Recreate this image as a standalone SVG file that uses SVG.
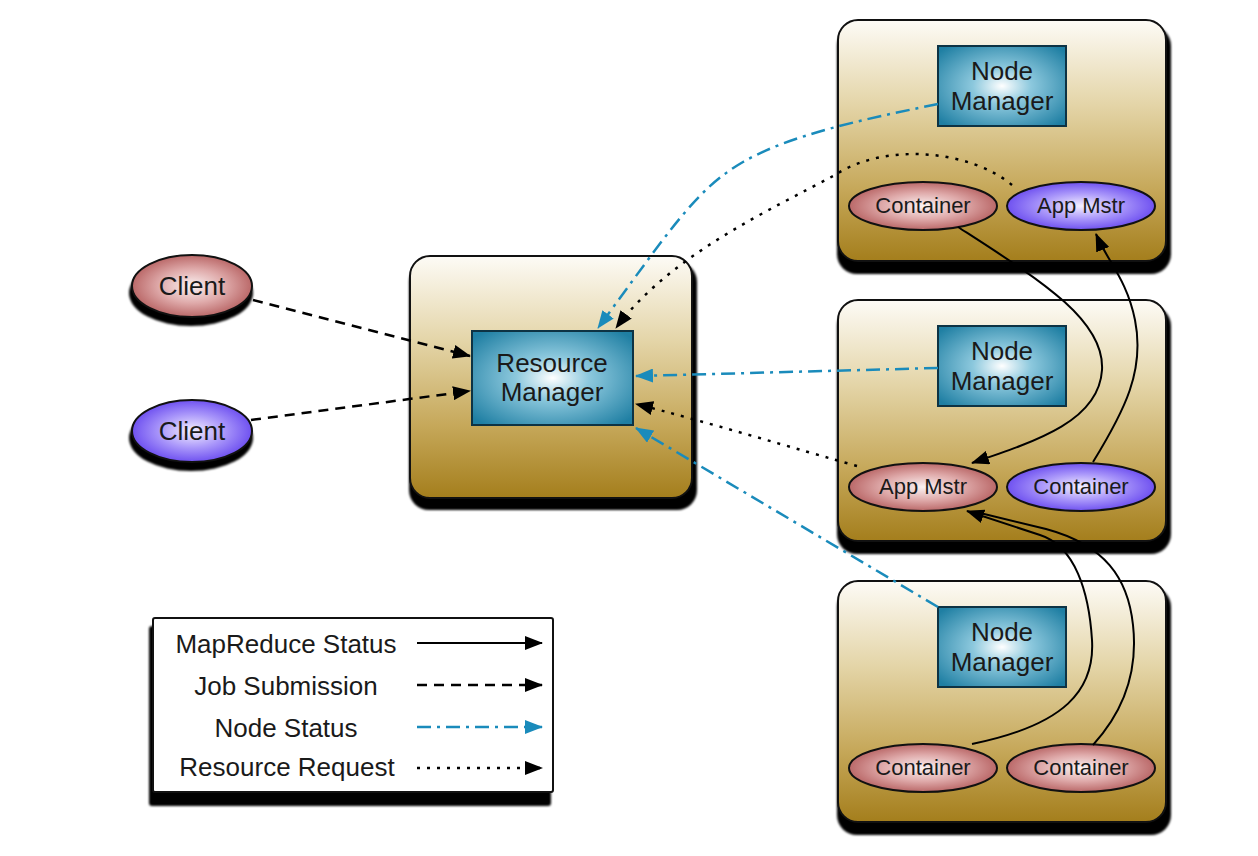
<svg xmlns="http://www.w3.org/2000/svg" width="1258" height="856" viewBox="0 0 1258 856">
<style>
text{font-family:"Liberation Sans",Arial,sans-serif;fill:#1a1a1a;text-anchor:middle}
.big{font-size:26px}
.sm{font-size:22px}
.leg{font-size:26px}
.box{fill:url(#gold);stroke:#111;stroke-width:2}
.sh{fill:#000;filter:url(#bl)}
.nm{fill:url(#teal);stroke:#0d3344;stroke-width:2}
.red{fill:url(#rg);stroke:#111;stroke-width:2}
.blu{fill:url(#bg);stroke:#111;stroke-width:2}
.mr{fill:none;stroke:#000;stroke-width:2;marker-end:url(#ak)}
.mr0{fill:none;stroke:#000;stroke-width:2}
.js{fill:none;stroke:#000;stroke-width:2.5;stroke-dasharray:10 7;marker-end:url(#ak)}
.ns{fill:none;stroke:#1a8bbb;stroke-width:2.5;stroke-dasharray:14 6 3 6;marker-end:url(#ab)}
.rr{fill:none;stroke:#000;stroke-width:2.5;stroke-dasharray:3 7;marker-end:url(#ak)}
</style>
<defs>
<filter id="bl" x="-10%" y="-10%" width="120%" height="130%"><feGaussianBlur stdDeviation="1"/></filter>
<linearGradient id="gold" x1="0" y1="0" x2="0" y2="1">
<stop offset="0" stop-color="#fdfbf6"/>
<stop offset="0.35" stop-color="#e4d5a8"/>
<stop offset="0.7" stop-color="#c6a85a"/>
<stop offset="1" stop-color="#a47e1c"/>
</linearGradient>
<radialGradient id="teal" cx="0.5" cy="0.5" r="0.65">
<stop offset="0" stop-color="#ffffff"/>
<stop offset="0.35" stop-color="#8cc8dd"/>
<stop offset="1" stop-color="#1f7fa3"/>
</radialGradient>
<radialGradient id="rg" cx="0.5" cy="0.5" r="0.55">
<stop offset="0" stop-color="#fbf2f2"/>
<stop offset="0.5" stop-color="#dfaaaa"/>
<stop offset="1" stop-color="#b25a5a"/>
</radialGradient>
<radialGradient id="bg" cx="0.5" cy="0.5" r="0.55">
<stop offset="0" stop-color="#f4f0ff"/>
<stop offset="0.5" stop-color="#a996fa"/>
<stop offset="1" stop-color="#6242ee"/>
</radialGradient>
<marker id="ak" markerWidth="18" markerHeight="14" refX="17" refY="7" orient="auto" markerUnits="userSpaceOnUse"><path d="M0,0 L18,7 L0,14 z" fill="#000"/></marker>
<marker id="ab" markerWidth="18" markerHeight="14" refX="17" refY="7" orient="auto" markerUnits="userSpaceOnUse"><path d="M0,0 L18,7 L0,14 z" fill="#1a8bbb"/></marker>
</defs>

<g id="client-red">
<ellipse class="sh" cx="191" cy="293" rx="62" ry="33"/>
<ellipse class="red" cx="192" cy="286" rx="60" ry="31"/>
<text class="big" x="192" y="295">Client</text>
</g>
<g id="client-blue">
<ellipse class="sh" cx="191" cy="438" rx="62" ry="33"/>
<ellipse class="blu" cx="192" cy="431" rx="60" ry="31"/>
<text class="big" x="192" y="440">Client</text>
</g>

<g id="resource-manager-node">
<rect class="sh" x="409" y="262" width="288" height="248" rx="20"/>
<rect class="box" x="410" y="256" width="282" height="242" rx="20"/>
<rect id="resource-manager" class="nm" x="472" y="331" width="161" height="94"/>
<text class="big" x="552" y="372">Resource</text>
<text class="big" x="552" y="401">Manager</text>
</g>

<g id="node1">
<rect class="sh" x="837" y="26" width="334" height="248" rx="20"/>
<rect class="box" x="838" y="20" width="328" height="241" rx="20"/>
<rect class="nm" x="938" y="46" width="128" height="80"/>
<text class="big" x="1002" y="80">Node</text>
<text class="big" x="1002" y="110">Manager</text>
<ellipse class="red" cx="923" cy="206" rx="74" ry="24"/>
<text class="sm" x="923" y="213">Container</text>
<ellipse class="blu" cx="1081" cy="206" rx="74" ry="24"/>
<text class="sm" x="1081" y="213">App Mstr</text>
</g>

<g id="node2">
<rect class="sh" x="837" y="306" width="334" height="248" rx="20"/>
<rect class="box" x="838" y="300" width="328" height="241" rx="20"/>
<rect class="nm" x="938" y="326" width="128" height="80"/>
<text class="big" x="1002" y="360">Node</text>
<text class="big" x="1002" y="390">Manager</text>
<ellipse class="red" cx="923" cy="487" rx="74" ry="24"/>
<text class="sm" x="923" y="494">App Mstr</text>
<ellipse class="blu" cx="1081" cy="487" rx="74" ry="24"/>
<text class="sm" x="1081" y="494">Container</text>
</g>

<g id="node3">
<rect class="sh" x="837" y="587" width="334" height="248" rx="20"/>
<rect class="box" x="838" y="581" width="328" height="241" rx="20"/>
<rect class="nm" x="938" y="607" width="128" height="80"/>
<text class="big" x="1002" y="641">Node</text>
<text class="big" x="1002" y="671">Manager</text>
<ellipse class="red" cx="923" cy="768" rx="74" ry="24"/>
<text class="sm" x="923" y="775">Container</text>
<ellipse class="red" cx="1081" cy="768" rx="74" ry="24"/>
<text class="sm" x="1081" y="775">Container</text>
</g>

<g id="connectors">
<path class="js" d="M253,300 L470,356"/>
<path class="js" d="M251,420 L470,391"/>
<path class="ns" d="M938,104 C860,120 790,135 743,162 S670,230 598,328"/>
<path class="rr" d="M1012,185 C970,150 885,142 835,175 C770,210 670,255 616,328"/>
<path class="ns" d="M938,368 L636,376"/>
<path class="rr" d="M857,466 C800,450 700,420 636,404"/>
<path class="ns" d="M938,607 L636,428"/>
<path class="mr" d="M958,227 C1040,280 1105,320 1102,370 C1099,420 1040,440 972,463"/>
<path class="mr" d="M1093,462 C1125,410 1145,370 1135,320 C1127,280 1108,262 1096,234"/>
<path class="mr0" d="M1093,745 C1125,710 1138,670 1133,625 C1128,578 1105,545 1046,529 L976,512"/>
<path class="mr" d="M972,744 C1065,725 1095,690 1092,640 C1089,592 1075,546 1040,535 L967,511"/>
</g>

<g id="legend">
<rect class="sh" x="149" y="626" width="402" height="180" rx="3"/>
<rect x="153" y="618" width="400" height="174" rx="2" fill="#fff" stroke="#111" stroke-width="2"/>
<text class="leg" x="286" y="653">MapReduce Status</text>
<text class="leg" x="286" y="695">Job Submission</text>
<text class="leg" x="286" y="737">Node Status</text>
<text class="leg" x="287" y="776">Resource Request</text>
<path class="mr" d="M417,643 L542,643"/>
<path class="js" d="M417,685 L542,685"/>
<path class="ns" d="M417,727 L542,727"/>
<path class="rr" d="M417,768 L542,768"/>
</g>
</svg>
